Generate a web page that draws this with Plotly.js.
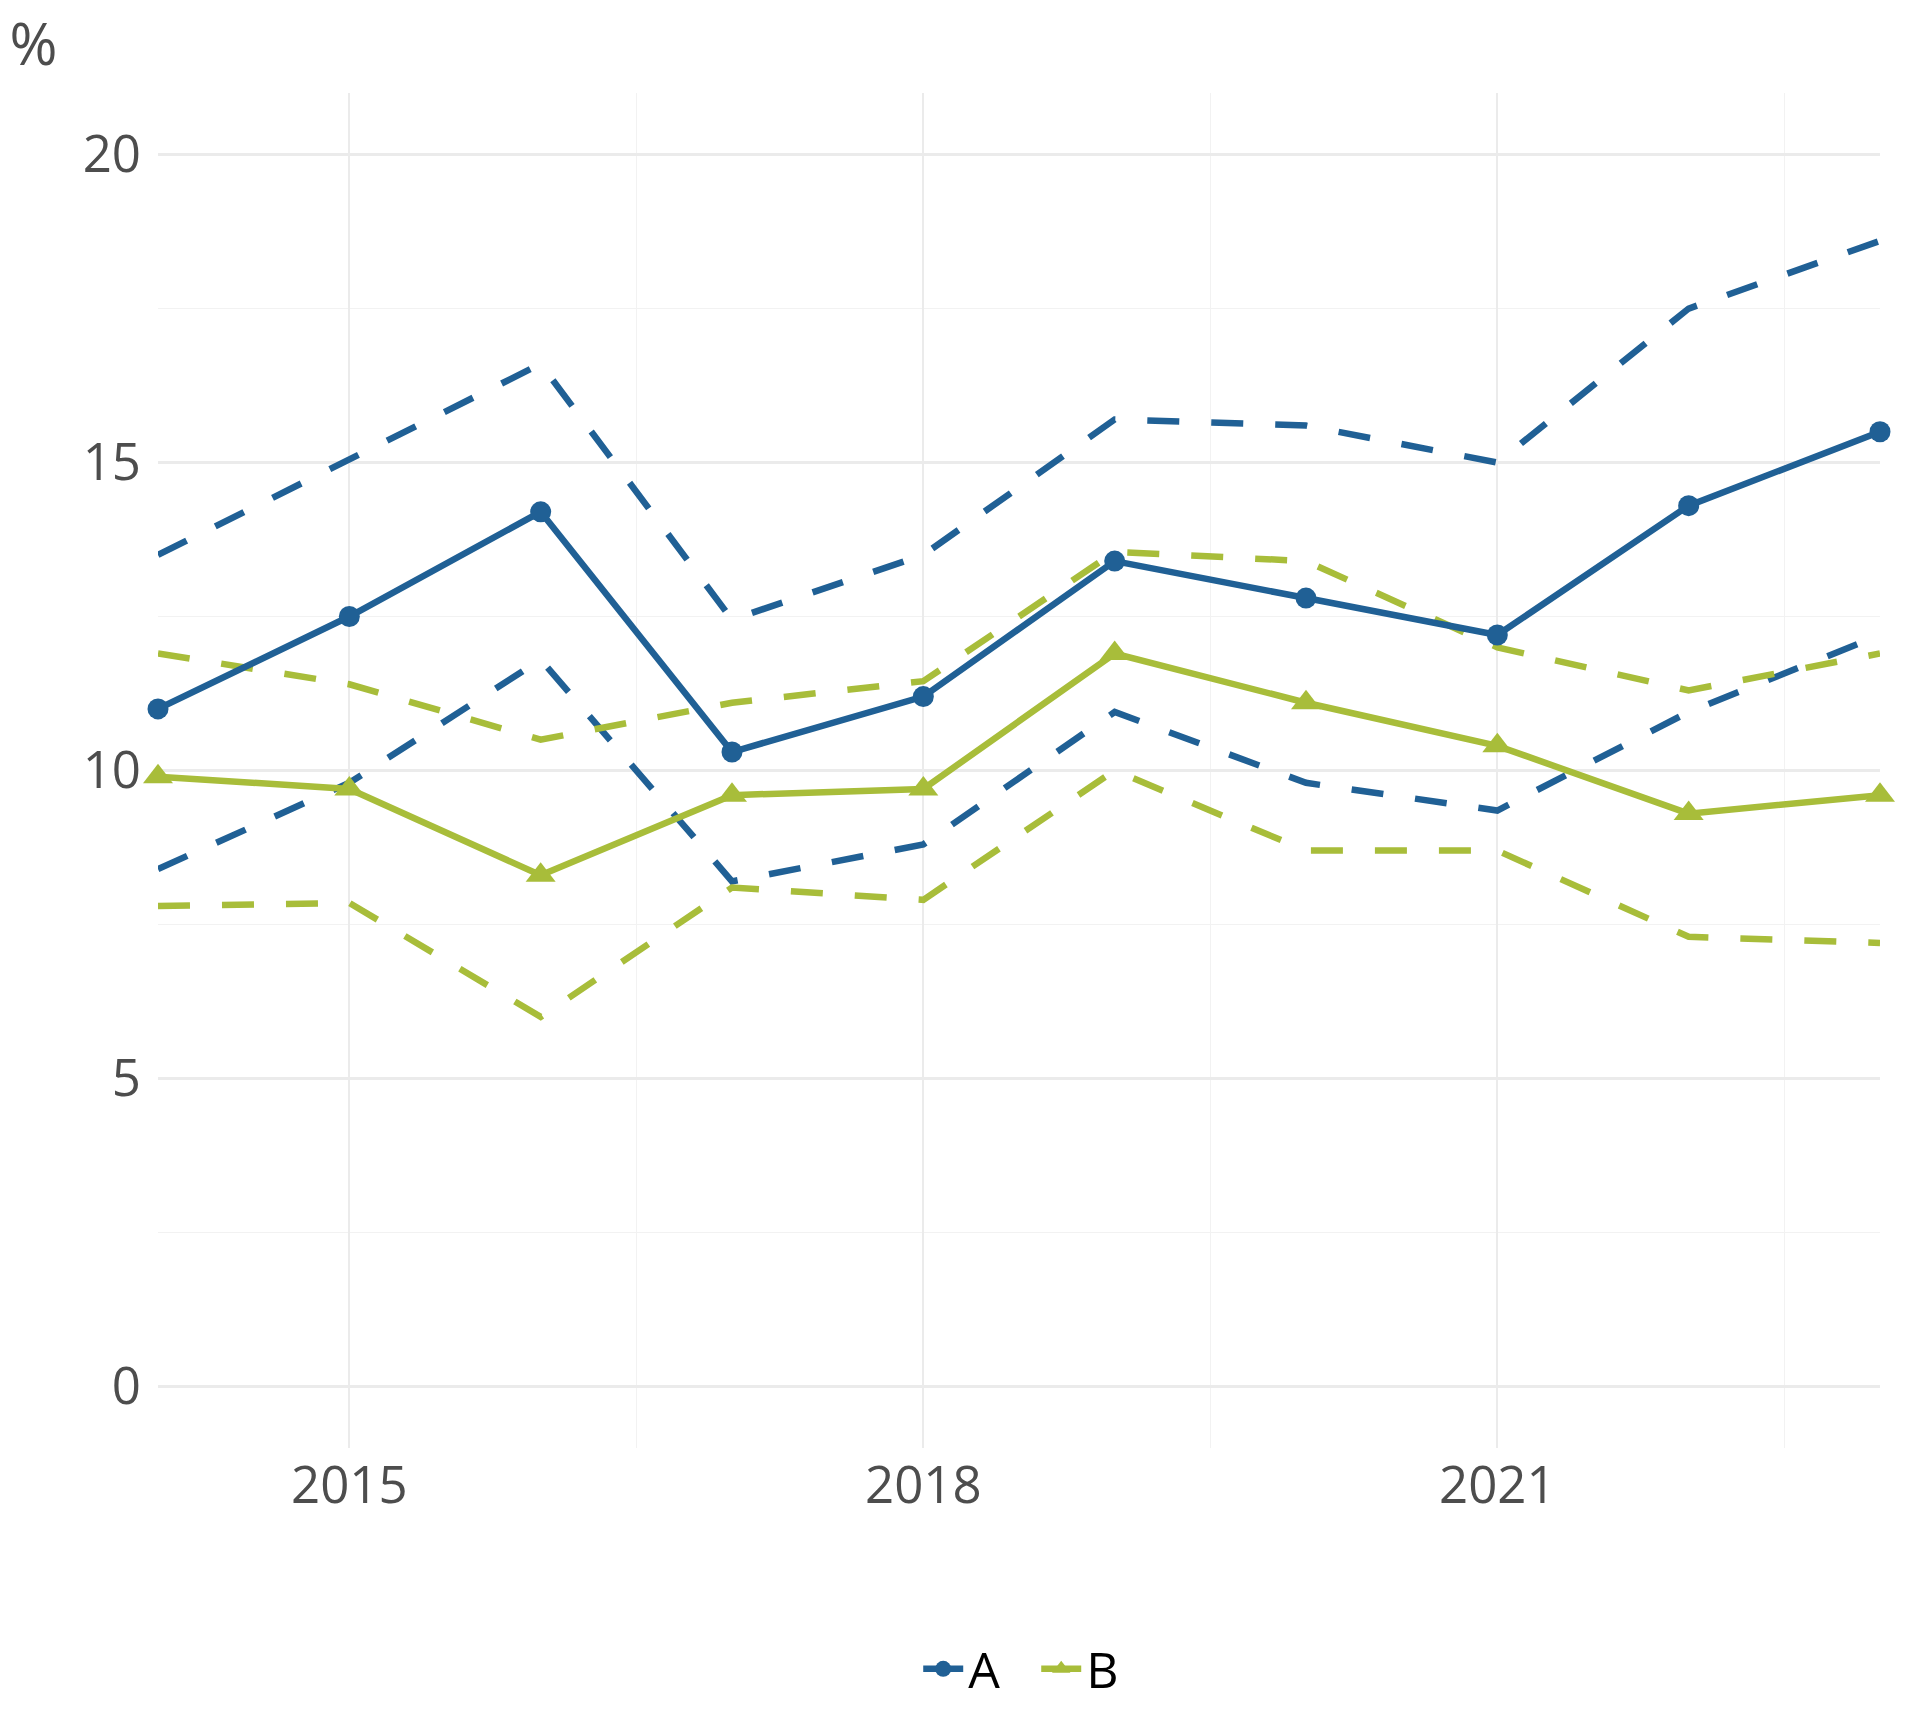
<!DOCTYPE html>
<html>
<head>
<meta charset="utf-8">
<script src="https://cdn.plot.ly/plotly-3.0.1.min.js"></script>
<style>
  html, body { margin: 0; padding: 0; background: #fff; }
  #chart { width: 1920px; height: 1728px; }
</style>
</head>
<body>
<div id="chart"></div>
<script>
// values
var years = [2014, 2015, 2016, 2017, 2018, 2019, 2020, 2021, 2022, 2023];

var aMid   = [11.0, 12.5, 14.2, 10.3, 11.2, 13.4, 12.8, 12.2, 14.3, 15.5];
var aUpper = [13.5, 15.05, 16.6, 12.45, 13.5, 15.7, 15.6, 15.0, 17.5, 18.6];
var aLower = [8.4, 9.8, 11.8, 8.2, 8.8, 10.95, 9.8, 9.35, 10.95, 12.2];

var bMid   = [9.9, 9.7, 8.3, 9.6, 9.7, 11.9, 11.1, 10.4, 9.3, 9.6];
var bUpper = [11.9, 11.4, 10.5, 11.1, 11.45, 13.55, 13.4, 12.0, 11.3, 11.9];
var bLower = [7.8, 7.85, 6.0, 8.1, 7.9, 10.0, 8.7, 8.7, 7.3, 7.2];

var seriesNames = ['A', 'B'];
var blue = '#206095';
var green = '#a8bd3a';

function band(y, color, group) {
  return {
    x: years, y: y,
    type: 'scatter', mode: 'lines',
    line: {color: color, width: 6.5, dash: '32px,32px'},
    legendgroup: group, showlegend: false,
    hoverinfo: 'skip'
  };
}

function mid(y, color, name, symbol, size) {
  return {
    x: years, y: y, name: name,
    type: 'scatter', mode: 'lines+markers',
    line: {color: color, width: 6.5},
    marker: {color: color, symbol: symbol, size: size},
    legendgroup: name,
    cliponaxis: false
  };
}

var traces = [
  band(aUpper, blue, seriesNames[0]),
  band(aLower, blue, seriesNames[0]),
  band(bUpper, green, seriesNames[1]),
  band(bLower, green, seriesNames[1]),
  mid(aMid, blue, seriesNames[0], 'circle', 21),
  mid(bMid, green, seriesNames[1], 'triangle-up', 26)
];

var layout = {
  width: 1920,
  height: 1728,
  paper_bgcolor: '#ffffff',
  plot_bgcolor: '#ffffff',
  font: {family: '"Open Sans", sans-serif', color: '#4d4d4d', size: 51},
  margin: {l: 158, r: 40, t: 93, b: 280, pad: 0},
  title: {
    text: '%',
    x: 0.005, xanchor: 'left', xref: 'container',
    y: 0.974, yanchor: 'middle', yref: 'container',
    font: {family: '"Open Sans", sans-serif', size: 58, color: '#4d4d4d'}
  },
  xaxis: {
    range: [2014, 2023],
    tick0: 2015, dtick: 3,
    showgrid: true, gridcolor: '#ebebeb', gridwidth: 2.2,
    minor: {tick0: 2015, dtick: 1.5, showgrid: true, gridcolor: '#f2f2f2', gridwidth: 1.2, ticks: ''},
    zeroline: false, showline: false, ticks: '',
    ticklabelstandoff: 3,
    tickfont: {size: 51, color: '#4d4d4d'}
  },
  yaxis: {
    range: [-1, 21],
    tick0: 0, dtick: 5,
    showgrid: true, gridcolor: '#ebebeb', gridwidth: 2.2,
    minor: {tick0: 0, dtick: 2.5, showgrid: true, gridcolor: '#f2f2f2', gridwidth: 1.2, ticks: ''},
    zeroline: false, showline: false, ticks: '',
    ticklabelstandoff: 16,
    tickfont: {size: 51, color: '#4d4d4d'}
  },
  showlegend: true,
  legend: {
    orientation: 'h',
    x: 0.51, xanchor: 'center',
    y: -0.163, yanchor: 'middle',
    font: {size: 50, color: '#000000'},
    bgcolor: 'rgba(0,0,0,0)',
    itemwidth: 40,
    entrywidth: 63,
    traceorder: 'normal'
  }
};

Plotly.newPlot('chart', traces, layout, {staticPlot: true, displayModeBar: false});
</script>
</body>
</html>
